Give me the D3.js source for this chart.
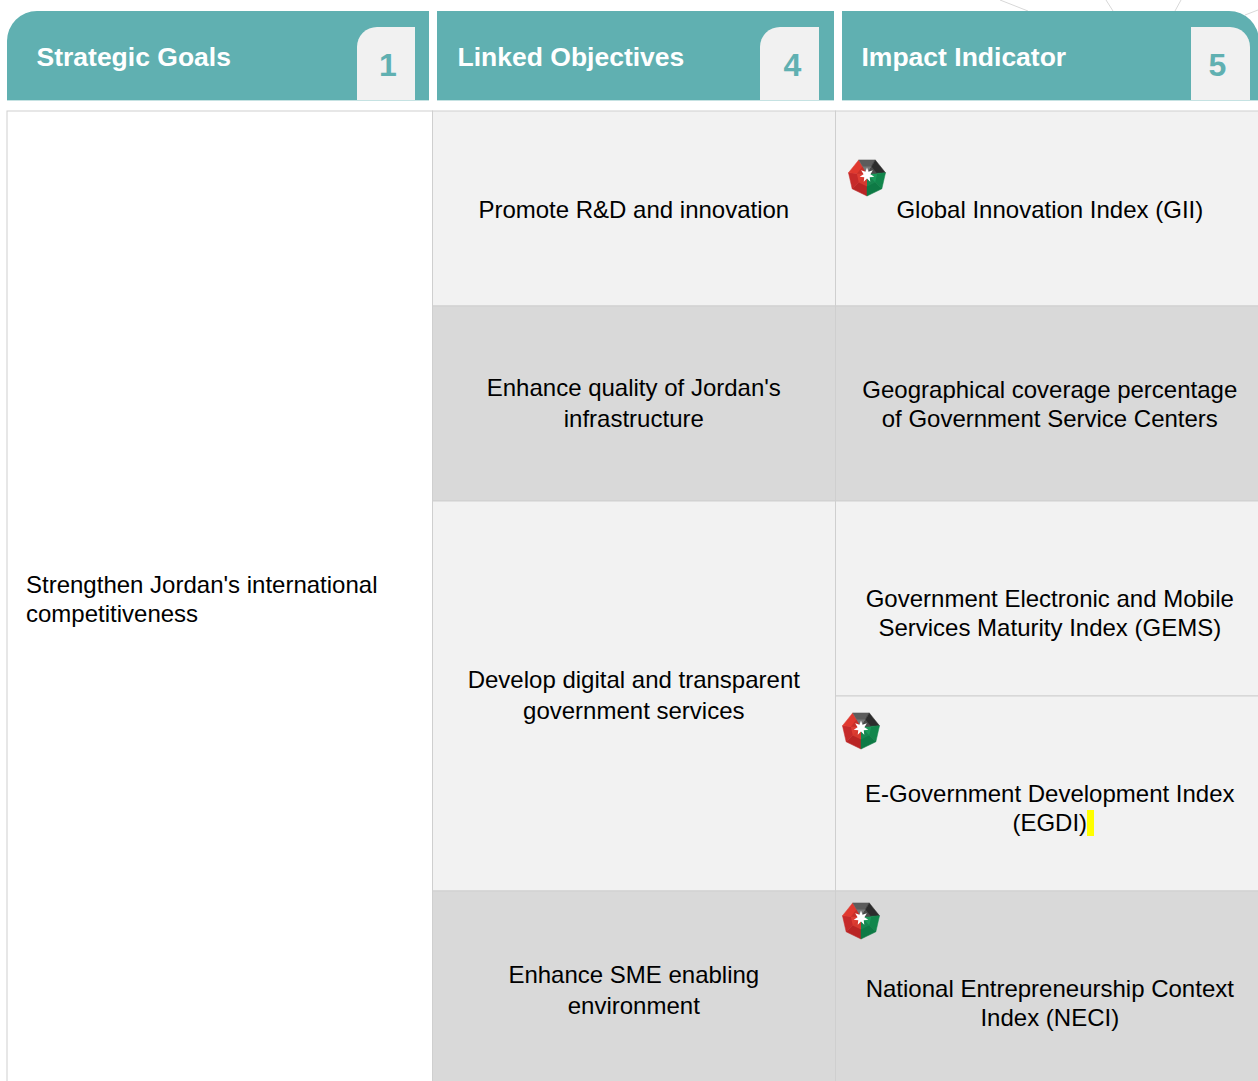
<!DOCTYPE html>
<html>
<head>
<meta charset="utf-8">
<style>
  html, body { margin: 0; padding: 0; background: #fff; overflow: hidden; }
  text { font-family: "Liberation Sans", Arial, sans-serif; }
</style>
<script src="https://cdn.jsdelivr.net/npm/d3@7"></script>
</head>
<body>
<div id="chart"></div>
<script>
// Data
var headers = ['Strategic Goals', 'Linked Objectives', 'Impact Indicator'];
var headerCounts = [1, 4, 5];
var goals = [["Strengthen Jordan's international", 'competitiveness']];
var objectives = [
  ['Promote R&D and innovation'],
  ["Enhance quality of Jordan's", 'infrastructure'],
  ['Develop digital and transparent', 'government services'],
  ['Enhance SME enabling', 'environment']
];
var objectiveSpans = [1, 1, 2, 1];
var indicators = [
  ['Global Innovation Index (GII)'],
  ['Geographical coverage percentage', 'of Government Service Centers'],
  ['Government Electronic and Mobile', 'Services Maturity Index (GEMS)'],
  ['E-Government Development Index', '(EGDI)'],
  ['National Entrepreneurship Context', 'Index (NECI)']
];
var indicatorShaded = [false, true, false, false, true];
var emblemRows = [0, 3, 4];

// Layout
var attrs = {
  width: 1258, height: 1081,
  teal: '#60b0b1', chip: '#f1f1f1', light: '#f2f2f2', dark: '#d9d9d9',
  border: '#cfcfcf', fontSize: 24
};
var colEdges = [7, 432.5, 835.5, 1259];
var headerBoxes = [[7, 429], [437, 834], [842, 1259]];
var chipBoxes = [[357, 415], [760, 819], [1191, 1250]];

var rowScale = d3.scaleLinear().domain([0, 5]).range([111, 1086]);

var svg = d3.select('#chart').append('svg')
  .attr('width', attrs.width)
  .attr('height', attrs.height)
  .style('display', 'block');

// faint network lines behind the header
var bgLines = [[1000, 0, 1028, 11], [1106, 0, 1113, 11], [1181, 0, 1175, 11], [1245, 15, 1258, 10]];
svg.selectAll('.bg-line').data(bgLines).enter().append('line')
  .attr('class', 'bg-line')
  .attr('x1', d => d[0]).attr('y1', d => d[1])
  .attr('x2', d => d[2]).attr('y2', d => d[3])
  .attr('stroke', '#d8d8d8').attr('stroke-width', 1);

function roundedPath(x0, x1, y0, y1, rl, rr) {
  var p = d3.path();
  p.moveTo(x0, y1);
  p.lineTo(x0, y0 + rl);
  if (rl) p.arcTo(x0, y0, x0 + rl, y0, rl);
  p.lineTo(x1 - rr, y0);
  if (rr) p.arcTo(x1, y0, x1, y0 + rr, rr);
  p.lineTo(x1, y1);
  p.closePath();
  return p.toString();
}

// Headers
var head = svg.selectAll('.head').data(headers).enter().append('g').attr('class', 'head');
head.append('path')
  .attr('d', (d, i) => roundedPath(headerBoxes[i][0], headerBoxes[i][1], 11, 100, i === 0 ? 30 : 0, i === 2 ? 30 : 0))
  .attr('fill', attrs.teal);
head.append('path')
  .attr('d', (d, i) => roundedPath(chipBoxes[i][0], chipBoxes[i][1], 27, 100, i === 2 ? 0 : 20, i === 2 ? 20 : 0))
  .attr('fill', attrs.chip);
head.append('rect')
  .attr('x', (d, i) => headerBoxes[i][0])
  .attr('y', 100)
  .attr('width', (d, i) => headerBoxes[i][1] - headerBoxes[i][0])
  .attr('height', 1)
  .attr('fill', '#c5e2e2');
head.append('text')
  .attr('x', (d, i) => [36.5, 457.5, 861.5][i])
  .attr('y', 66)
  .attr('font-size', 26.5)
  .attr('font-weight', 700)
  .attr('fill', '#fff')
  .text(d => d);
svg.selectAll('.head-count').data(headerCounts).enter().append('text')
  .attr('class', 'head-count')
  .attr('x', (d, i) => (chipBoxes[i][0] + chipBoxes[i][1]) / 2 + [2, 3, -3][i])
  .attr('y', 76)
  .attr('text-anchor', 'middle')
  .attr('font-size', 32)
  .attr('font-weight', 700)
  .attr('fill', attrs.teal)
  .text(d => d);

// Cells
var objectiveStarts = objectiveSpans.map((s, i) => d3.sum(objectiveSpans.slice(0, i)));

svg.append('rect').attr('class', 'goal-cell')
  .attr('x', colEdges[0]).attr('y', rowScale(0))
  .attr('width', colEdges[1] - colEdges[0]).attr('height', rowScale(5) - rowScale(0))
  .attr('fill', '#fff').attr('stroke', attrs.border);

svg.selectAll('.obj-cell').data(objectives).enter().append('rect')
  .attr('class', 'obj-cell')
  .attr('x', colEdges[1]).attr('width', colEdges[2] - colEdges[1])
  .attr('y', (d, i) => rowScale(objectiveStarts[i]))
  .attr('height', (d, i) => rowScale(objectiveSpans[i]) - rowScale(0))
  .attr('fill', (d, i) => i % 2 ? attrs.dark : attrs.light)
  .attr('stroke', attrs.border);

svg.selectAll('.ind-cell').data(indicators).enter().append('rect')
  .attr('class', 'ind-cell')
  .attr('x', colEdges[2]).attr('width', colEdges[3] - colEdges[2])
  .attr('y', (d, i) => rowScale(i))
  .attr('height', rowScale(1) - rowScale(0))
  .attr('fill', (d, i) => indicatorShaded[i] ? attrs.dark : attrs.light)
  .attr('stroke', attrs.border);

// cy gives the baseline midpoint of a block of lines
function multiline(sel, x, cy, lh, anchor) {
  sel.attr('text-anchor', anchor).attr('font-size', attrs.fontSize).attr('fill', '#000');
  sel.each(function(lines, i) {
    var t = d3.select(this);
    var top = cy[i] - (lines.length - 1) * lh / 2;
    lines.forEach((l, j) => {
      t.append('tspan').attr('x', x).attr('y', top + j * lh).text(l);
    });
  });
}

svg.selectAll('.goal-text').data(goals).enter().append('text')
  .attr('class', 'goal-text')
  .call(multiline, 26, [607], 29, 'start');

svg.selectAll('.obj-text').data(objectives).enter().append('text')
  .attr('class', 'obj-text')
  .call(multiline, 633.8, [218, 411, 703, 998], 31, 'middle');

svg.selectAll('.ind-text').data(indicators).enter().append('text')
  .attr('class', 'ind-text')
  .call(multiline, 1049.8, [218, 412, 621, 816, 1011], 29, 'middle');

// yellow highlight after (EGDI)
svg.append('rect').attr('x', 1087).attr('y', 810).attr('width', 7).attr('height', 26).attr('fill', '#ffff00');

// Emblems
var emblemCentres = [[867, 177], [861, 730], [861, 920]];
var R = 19;
var hept = d3.range(7).map(i => {
  var a = Math.PI / 2 + i * 2 * Math.PI / 7;
  return [R * Math.cos(a), R * Math.sin(a)];
});
// hept[0] is the bottom point, going clockwise on screen; each wedge has an outer and inner facet
var facets = [
  [0, '#b92525', '#d63a30'], [1, '#c62a2a', '#de3d33'], [2, '#e0392f', '#c93029'],
  [3, '#5c5c5c', '#777777'], [4, '#2c2c2c', '#4a4a4a'], [5, '#12864c', '#1a9a5a'], [6, '#0e7a45', '#17864f']
];
var emblem = svg.selectAll('.emblem').data(emblemRows).enter().append('g')
  .attr('class', 'emblem')
  .attr('transform', (d, i) => 'translate(' + emblemCentres[i] + ')');

emblem.selectAll('.outer').data(facets).enter().append('path')
  .attr('class', 'outer')
  .attr('d', f => 'M0,-3L' + hept[f[0]] + 'L' + hept[(f[0] + 1) % 7] + 'Z')
  .attr('fill', f => f[1])
  .attr('stroke', f => f[1])
  .attr('stroke-width', 0.5);
emblem.selectAll('.inner').data(facets).enter().append('path')
  .attr('class', 'inner')
  .attr('d', f => {
    var a = hept[f[0]], b = hept[(f[0] + 1) % 7];
    return 'M0,-3L' + [a[0] * 0.55, a[1] * 0.55 - 1] + 'L' + [b[0] * 0.55, b[1] * 0.55 - 1] + 'Z';
  })
  .attr('fill', f => f[2]);

// seven pointed star
var starPoints = d3.range(14).map(i => [i * Math.PI / 7, i % 2 ? 3.5 : 7.5]);
emblem.append('path')
  .attr('d', d3.lineRadial().curve(d3.curveLinearClosed)(starPoints))
  .attr('transform', 'translate(0,-2)')
  .attr('fill', '#fff');
</script>
</body>
</html>
